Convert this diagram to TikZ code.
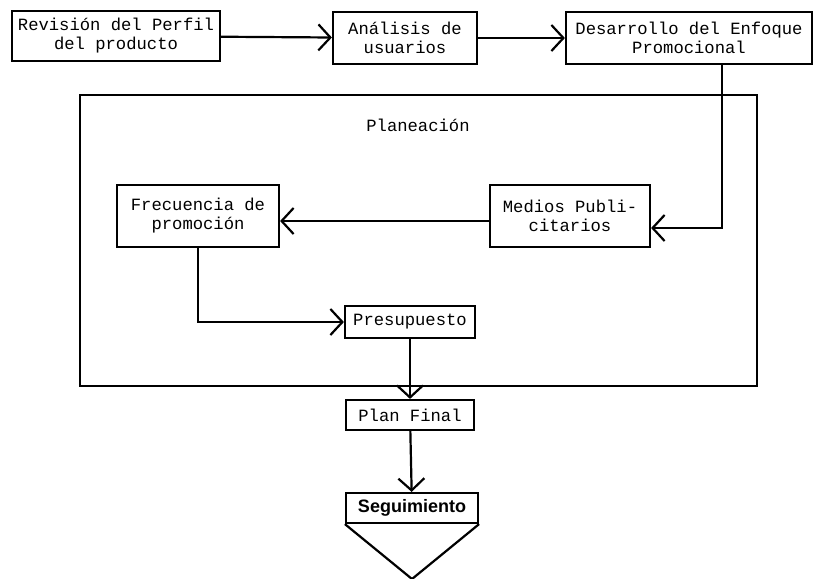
\documentclass[tikz,border=0pt]{standalone}
\usepackage{fontspec}
\setmainfont{Liberation Mono}
\newfontfamily\headfont{Liberation Sans}
\usetikzlibrary{arrows.meta,positioning}
\tikzset{
  box/.style={draw, line width=1.1pt, align=center, inner sep=1mm,
              font=\fontsize{8.6}{9.5}\selectfont},
  flow/.style={-{Straight Barb[length=6pt,width=13pt,line width=1.1pt]}, line width=1.1pt},
  frame/.style={draw, line width=0.9pt}
}
\begin{document}
\begin{tikzpicture}[x=0.5pt,y=-0.5pt]
  \useasboundingbox (0,0) rectangle (815,579);
  % top row
  \node[box, minimum width=104pt, minimum height=25pt] (perfil) at (116,36) {Revisión del Perfil\\del producto};
  \node[box, minimum width=72pt, minimum height=26pt] (usuarios) at (405,38) {Análisis de\\usuarios};
  \node[box, minimum width=123pt, minimum height=26pt] (enfoque) at (689,38) {Desarrollo del Enfoque\\Promocional};
  \draw[flow] (perfil) -- (usuarios);
  \draw[flow] (usuarios) -- (enfoque);
  % planning block
  \draw[frame] (80,95) rectangle (757,386);
  \node[font=\fontsize{8.6}{9.5}\selectfont] (plan) at (418,125) {Planeación};
  \node[box, minimum width=81pt, minimum height=31pt] (frecuencia) at (198,216) {Frecuencia de\\promoción};
  \node[box, minimum width=80pt, minimum height=31pt] (medios) at (570,216) {Medios Publi-\\citarios};
  \node[box, minimum width=65pt, minimum height=16pt] (presupuesto) at (410,322) {Presupuesto};
  \coordinate (bajada) at (722,228);
  \draw[flow] (enfoque.south -| bajada) -- (bajada) -- (medios.east |- bajada);
  \draw[flow] ([yshift=-2.5pt]medios.west) -- ([yshift=-2.5pt]frecuencia.east);
  \draw[flow] (frecuencia.south) |- (presupuesto.west);
  % closing steps
  \node[box, minimum width=64pt, minimum height=15pt] (final) at (410,415) {Plan Final};
  \node[box, minimum width=66pt, minimum height=15pt, font=\headfont\bfseries\fontsize{9}{10}\selectfont] (seguimiento) at (412,508) {Seguimiento};
  \draw[flow] (presupuesto) -- (final);
  \draw[flow] (final) -- (seguimiento);
  \coordinate (punta) at (412,579);
  \draw[line width=1.1pt] (seguimiento.south west) -- (punta) -- (seguimiento.south east);
\end{tikzpicture}
\end{document}
